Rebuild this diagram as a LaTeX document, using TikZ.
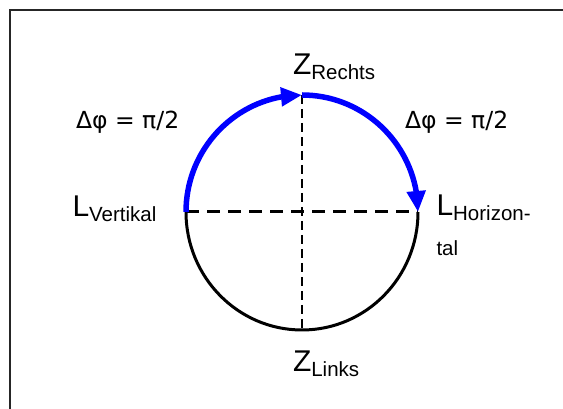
\documentclass[tikz,border=0pt]{standalone}
\usepackage{fontspec}
\setmainfont{Liberation Sans}
\newfontfamily\greekfont{DejaVu Sans}
\usetikzlibrary{arrows.meta,bending}
\newcommand\mainsym[1]{{\fontsize{30}{36}\selectfont #1}}
\newcommand\subtxt[1]{\raisebox{-4.5pt}{\fontsize{20.5}{24}\selectfont #1}}
\newcommand\angtxt[1]{{\greekfont\fontsize{23.5}{28}\selectfont #1}}
\begin{document}
\begin{tikzpicture}[x=1pt,y=1pt,
  lbl/.style={anchor=base west, inner sep=0pt, outer sep=0pt},
  rim/.style={draw=black, line width=3pt},
  shift90/.style={draw=blue, line width=5.5pt, -{Triangle[length=21pt,width=18pt,flex]}},
  diamh/.style={draw=black, line width=3pt, dash pattern=on 13pt off 8pt},
  diamv/.style={draw=black, line width=1.5pt, dash pattern=on 9pt off 5pt},
  frame/.style={draw=black!85, line width=2pt}]
\useasboundingbox (0,0) rectangle (563,409);
\clip (0,0) rectangle (563,409);
% frame (only left and top visible)
\draw[frame] (9.5,-20) rectangle (620,398.5);
% circle geometry
\coordinate (c) at (302,197);
\coordinate (left) at (186,197);
\coordinate (right) at (418,197);
\coordinate (top) at (302,314);
\coordinate (bot) at (302,79);
\draw[rim] (left) arc[start angle=180, end angle=360, x radius=116, y radius=118];
\draw[diamv] (top) -- (bot);
\draw[diamh] (left) -- (right);
\draw[shift90] (left) arc[start angle=180, end angle=90, x radius=116, y radius=117];
\draw[shift90] (top) arc[start angle=90, end angle=0, x radius=116, y radius=117];
% labels
\node[lbl] (zr) at (293,334) {\mainsym{Z}\subtxt{Rechts}};
\node[lbl] (zl) at (293,37) {\mainsym{Z}\subtxt{Links}};
\node[lbl] (lv) at (72.5,192) {\mainsym{L}\subtxt{Vertikal}};
\node[lbl] (lh) at (436.5,193) {\vtop{\baselineskip=40pt\hbox{\mainsym{L}\subtxt{Horizon-}}\hbox{\fontsize{20.5}{24}\selectfont tal}}};
\node[lbl] (dl) at (76,280) {\angtxt{Δφ = π/2}};
\node[lbl] (dr) at (405,280) {\angtxt{Δφ = π/2}};
\end{tikzpicture}
\end{document}
